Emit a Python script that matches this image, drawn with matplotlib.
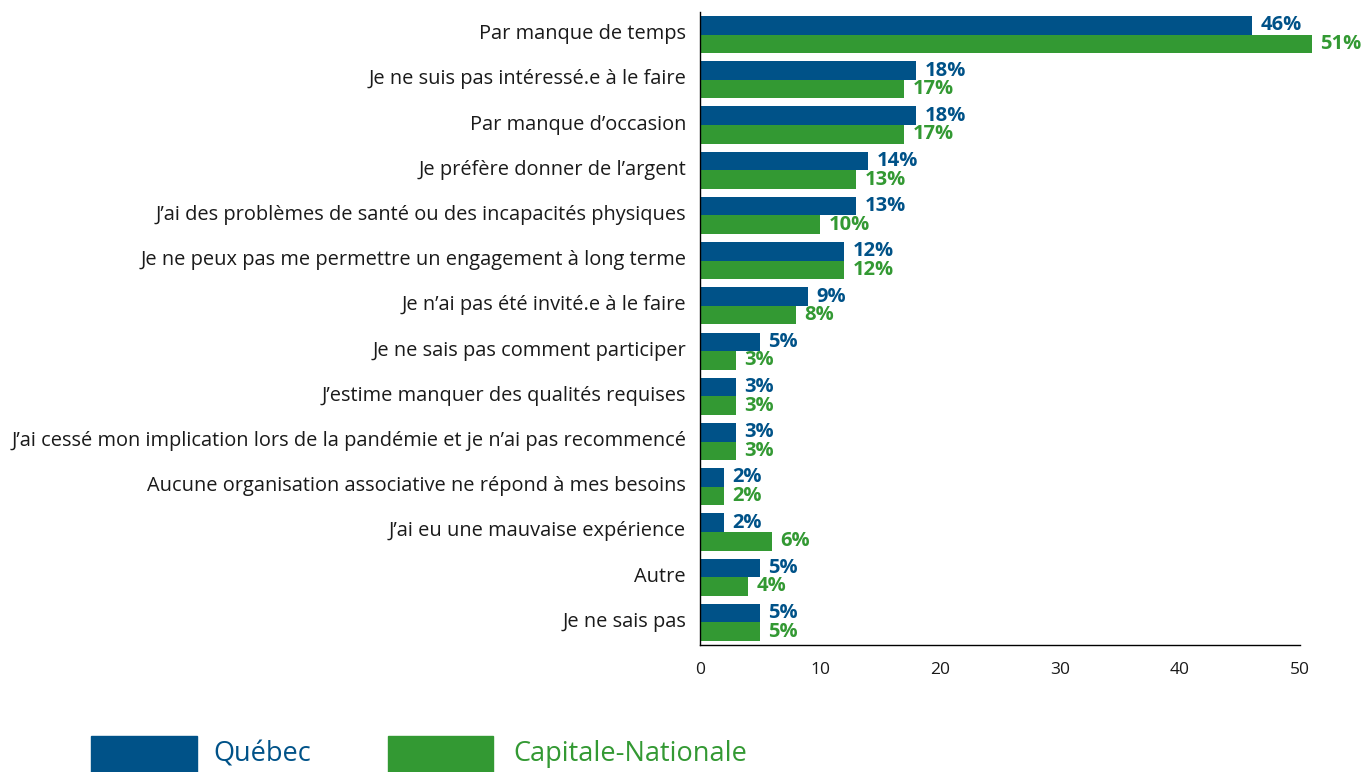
import matplotlib
matplotlib.use("Agg")
import matplotlib.pyplot as plt
from matplotlib.patches import Rectangle
from matplotlib.transforms import ScaledTranslation
import numpy as np

categories = [
    "Par manque de temps",
    "Je ne suis pas intéressé.e à le faire",
    "Par manque d’occasion",
    "Je préfère donner de l’argent",
    "J’ai des problèmes de santé ou des incapacités physiques",
    "Je ne peux pas me permettre un engagement à long terme",
    "Je n’ai pas été invité.e à le faire",
    "Je ne sais pas comment participer",
    "J’estime manquer des qualités requises",
    "J’ai cessé mon implication lors de la pandémie et je n’ai pas recommencé",
    "Aucune organisation associative ne répond à mes besoins",
    "J’ai eu une mauvaise expérience",
    "Autre",
    "Je ne sais pas",
]
quebec = [46, 18, 18, 14, 13, 12, 9, 5, 3, 3, 2, 2, 5, 5]
capitale = [51, 17, 17, 13, 10, 12, 8, 3, 3, 3, 2, 6, 4, 5]
series_names = ["Québec", "Capitale-Nationale"]
xticks = [0, 10, 20, 30, 40, 50]

C_QC = "#005288"
C_CN = "#339933"
TXT = "#1a1a1a"

plt.rcParams["font.family"] = ["Open Sans", "DejaVu Sans"]

W, H = 1361, 772
fig = plt.figure(figsize=(W / 100, H / 100), dpi=100)
ax = fig.add_axes([700 / W, 1 - 645 / H, 600 / W, (645 - 12) / H])

y = np.arange(len(categories))
bh = 0.41
b1 = ax.barh(y - bh / 2, quebec, height=bh, color=C_QC, clip_on=False)
b2 = ax.barh(y + bh / 2, capitale, height=bh, color=C_CN, clip_on=False)

for bars, vals, col in ((b1, quebec, C_QC), (b2, capitale, C_CN)):
    for rect, v in zip(bars, vals):
        ax.annotate(f"{v}%", (v, rect.get_y() + rect.get_height() / 2),
                    xytext=(6, 0), textcoords="offset points",
                    ha="left", va="center", fontsize=14.5, fontweight="bold",
                    color=col, annotation_clip=False)

ax.set_xlim(0, 50)
ax.set_ylim(len(categories) - 0.5, -0.5)
ax.set_yticks(y)
ax.set_yticklabels(categories, fontsize=14.45, color=TXT)
ax.set_xticks(xticks)
ax.set_xticklabels([str(t) for t in xticks], fontsize=12.5, color=TXT)
ax.tick_params(axis="y", length=0, pad=10)
ax.tick_params(axis="x", length=0, pad=12)
shift = ScaledTranslation(0, 3 / 100, fig.dpi_scale_trans)
for lbl in ax.get_yticklabels():
    lbl.set_transform(lbl.get_transform() + shift)
for s in ("top", "right"):
    ax.spines[s].set_visible(False)
for s in ("left", "bottom"):
    ax.spines[s].set_color("black")
    ax.spines[s].set_linewidth(1.0)

# legend
def px(x, yy):
    return x / W, 1 - yy / H

for (x0, x1, tx), name, col in (((91, 197, 213), series_names[0], C_QC),
                                ((388, 493, 513), series_names[1], C_CN)):
    fx, fy = px(x0, 772)
    fig.add_artist(Rectangle((fx, fy), (x1 - x0) / W, 36 / H,
                             transform=fig.transFigure, color=col))
    tx_, ty_ = px(tx, 754)
    fig.text(tx_, ty_, name, fontsize=19.5, color=col, ha="left", va="center")

fig.savefig("out.png", dpi=100)
